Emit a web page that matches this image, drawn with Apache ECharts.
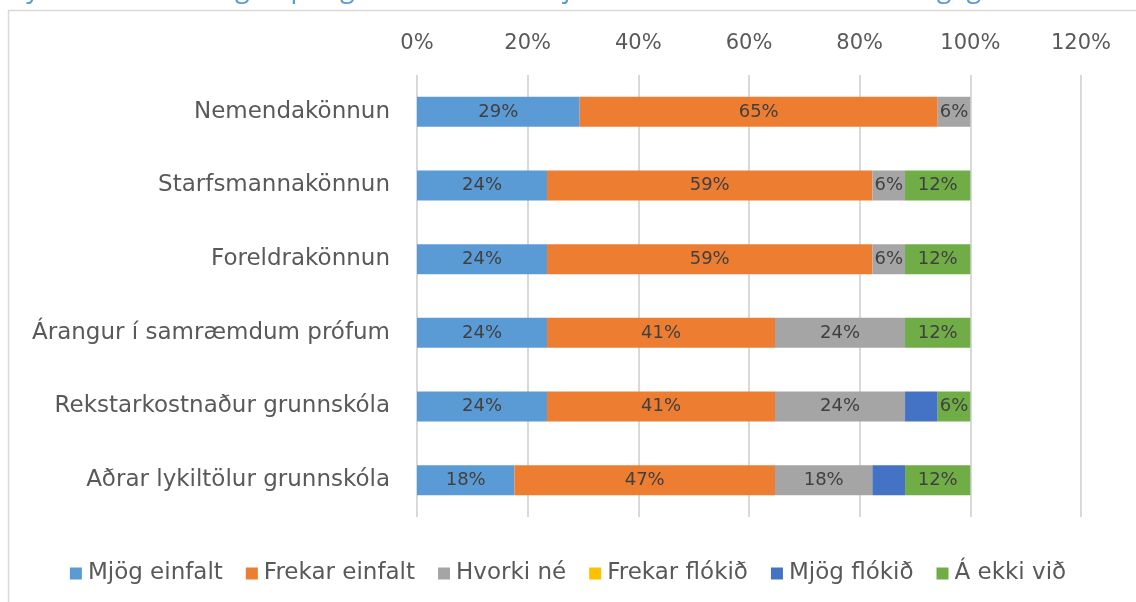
<!DOCTYPE html>
<html>
<head>
<meta charset="utf-8">
<script src="https://cdn.jsdelivr.net/npm/echarts@6/dist/echarts.min.js"></script>
<style>
  html, body { margin: 0; padding: 0; background: #fff; }
  #chart { width: 1136px; height: 602px; }
</style>
</head>
<body>
<div id="chart"></div>
<script>
const categories = [
  'Nemendakönnun',
  'Starfsmannakönnun',
  'Foreldrakönnun',
  'Árangur í samræmdum prófum',
  'Rekstarkostnaður grunnskóla',
  'Aðrar lykiltölur grunnskóla'
]
const mjogEinfalt = [29.4, 23.5, 23.5, 23.5, 23.5, 17.6]
const frekarEinfalt = [64.7, 58.8, 58.8, 41.2, 41.2, 47.1]
const hvorkiNe = [5.9, 5.9, 5.9, 23.5, 23.5, 17.6]
const frekarFlokid = [0, 0, 0, 0, 0, 0]
const mjogFlokid = [0, 0, 0, 0, 5.9, 5.9]
const aEkkiVid = [0, 11.8, 11.8, 11.8, 5.9, 11.8]
const xTicks = [0, 20, 40, 60, 80, 100, 120]

const seriesDefs = [
  { name: 'Mjög einfalt', data: mjogEinfalt, color: '#5B9BD5', label: true },
  { name: 'Frekar einfalt', data: frekarEinfalt, color: '#ED7D31', label: true },
  { name: 'Hvorki né', data: hvorkiNe, color: '#A5A5A5', label: true },
  { name: 'Frekar flókið', data: frekarFlokid, color: '#FFC000', label: true },
  { name: 'Mjög flókið', data: mjogFlokid, color: '#4472C4', label: false },
  { name: 'Á ekki við', data: aEkkiVid, color: '#70AD47', label: true }
]

const font = '"DejaVu Sans", "Open Sans", sans-serif'
const chart = echarts.init(document.getElementById('chart'))

chart.setOption({
  animation: false,
  backgroundColor: '#fff',
  graphic: [
    {
      type: 'rect',
      shape: { x: 8.5, y: 10.5, width: 1140, height: 600 },
      style: { fill: 'none', stroke: '#D9D9D9', lineWidth: 1.5 },
      silent: true
    },
    {
      type: 'text',
      left: 2,
      top: -24,
      style: {
        text: 'Mynd 3. Hlutfallsleg skipting svara um að skilja eða túlka niðurstöður skólagagna',
        fill: '#5B9BD5',
        font: '27px "Open Sans", sans-serif'
      },
      silent: true
    }
  ],
  grid: { left: 417, top: 75, width: 664, height: 442, containLabel: false },
  legend: {
    bottom: 12,
    left: 'center',
    itemWidth: 12,
    itemHeight: 12,
    itemGap: 23,
    icon: 'rect',
    textStyle: { color: '#595959', fontSize: 23, fontFamily: font, padding: [0, 0, 0, 1] },
    data: seriesDefs.map(s => s.name)
  },
  xAxis: {
    type: 'value',
    position: 'top',
    min: 0,
    max: 120,
    interval: 20,
    axisLine: { show: false },
    axisTick: { show: false },
    axisLabel: {
      color: '#595959',
      fontSize: 21,
      fontFamily: font,
      margin: 21,
      formatter: v => xTicks.includes(v) ? v + '%' : ''
    },
    splitLine: { show: true, lineStyle: { color: '#D9D9D9', width: 2 } }
  },
  yAxis: {
    type: 'category',
    inverse: true,
    data: categories,
    axisLine: { show: false },
    axisTick: { show: false },
    axisLabel: { color: '#595959', fontSize: 23, fontFamily: font, margin: 27 }
  },
  series: seriesDefs.map(s => ({
    name: s.name,
    type: 'bar',
    stack: 'total',
    barWidth: 30,
    data: s.data,
    itemStyle: { color: s.color },
    label: {
      show: s.label,
      position: 'inside',
      color: '#404040',
      fontSize: 18,
      fontFamily: font,
      formatter: p => p.value > 0 ? Math.round(p.value) + '%' : ''
    }
  }))
})
</script>
</body>
</html>
